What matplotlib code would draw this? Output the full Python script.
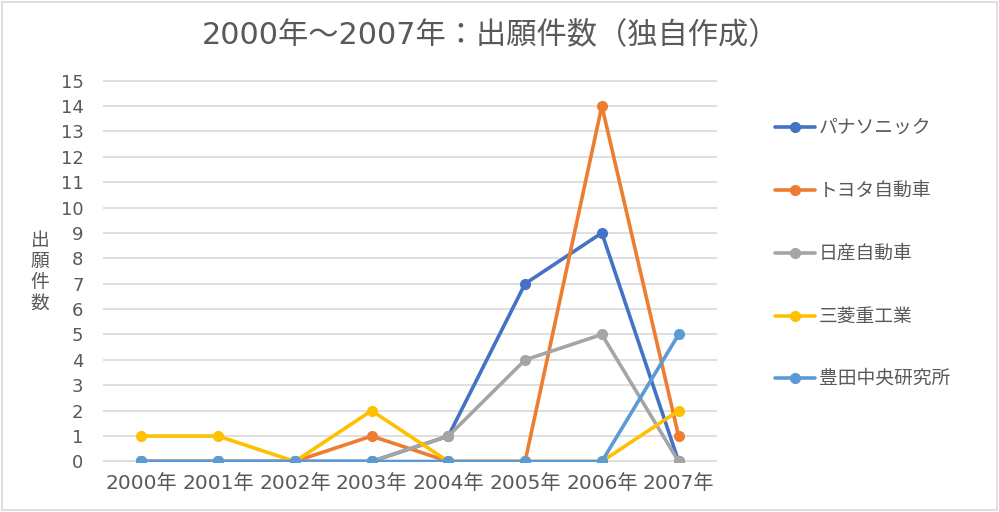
import matplotlib
matplotlib.use("Agg")
import matplotlib.pyplot as plt
from matplotlib.lines import Line2D
from matplotlib.patches import Rectangle

# wide digits from DejaVu, Japanese glyphs from Noto CJK
plt.rcParams['font.family'] = ['DejaVu Sans', 'Noto Sans CJK JP']

years = ["2000年", "2001年", "2002年", "2003年", "2004年", "2005年", "2006年", "2007年"]
names = ["パナソニック", "トヨタ自動車", "日産自動車", "三菱重工業", "豊田中央研究所"]
panasonic = [0, 0, 0, 0, 1, 7, 9, 0]
toyota = [0, 0, 0, 1, 0, 0, 14, 1]
nissan = [0, 0, 0, 0, 1, 4, 5, 0]
mhi = [1, 1, 0, 2, 0, 0, 0, 2]
tcrdl = [0, 0, 0, 0, 0, 0, 0, 5]
colors = ["#4472C4", "#ED7D31", "#A5A5A5", "#FFC000", "#5B9BD5"]

txt = "#595959"
jp = ['Noto Sans CJK JP', 'DejaVu Sans']
fig = plt.figure(figsize=(9.99, 5.12), dpi=100)
fig.patches.append(Rectangle((0.002, 0.004), 0.996, 0.992, transform=fig.transFigure,
                             fill=False, edgecolor="#D9D9D9", linewidth=1.2))
ax = fig.add_axes([0.1031, 0.0977, 0.6146, 0.746])

x = range(len(years))
for s, c in zip([panasonic, toyota, nissan, mhi, tcrdl], colors):
    ax.plot(x, s, color=c, linewidth=2.6, marker="o", markersize=7, solid_capstyle="round",
            solid_joinstyle="round", zorder=3)

ax.set_xlim(-0.5, 7.5)
ax.set_yticks(range(16))
ax.set_xticks(list(x))
ax.set_xticklabels(years)
ax.grid(axis="y", color="#D9D9D9", linewidth=1.2)
ax.set_axisbelow(True)
for sp in ax.spines.values():
    sp.set_visible(False)
ax.tick_params(length=0, colors=txt)
ax.tick_params(axis="y", pad=14, labelsize=13)
ax.tick_params(axis="x", pad=9, labelsize=14.5)
ax.set_ylim(-0.02, 15.02)

fig.text(0.4905, 1 - 36 / 512, "2000年～2007年：出願件数（独自作成）", ha="center", va="center",
         fontsize=21.8, color=txt)
fig.text(40 / 999, 1 - 272 / 512, "出\n願\n件\n数", ha="center", va="center",
         fontsize=13.5, color=txt, linespacing=1.0, family=jp)

ys = [127, 190, 253, 316, 378]
for n, c, yy in zip(names, colors, ys):
    fy = 1 - yy / 512
    fig.add_artist(Line2D([775 / 999, 815 / 999], [fy, fy], transform=fig.transFigure,
                          color=c, linewidth=2.6, solid_capstyle="round"))
    fig.add_artist(Line2D([795 / 999], [fy], transform=fig.transFigure,
                          color=c, marker="o", markersize=7))
    fig.text(819 / 999, fy, n, ha="left", va="center", fontsize=13.5, color=txt, family=jp)

fig.savefig("out.png", dpi=100)
